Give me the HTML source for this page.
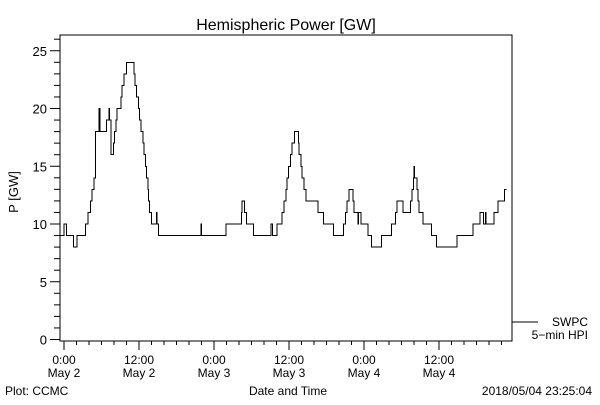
<!DOCTYPE html>
<html><head><meta charset="utf-8"><style>
body{margin:0;background:#fff;}
svg text{font-family:"Liberation Sans",sans-serif;fill:#000;}
</style></head><body>
<svg id="chart" width="600" height="400" viewBox="0 0 600 400" xmlns="http://www.w3.org/2000/svg">
<rect width="600" height="400" fill="#fff"/>
<text x="286" y="30" font-size="16" text-anchor="middle">Hemispheric Power [GW]</text>
<rect x="60" y="35" width="452" height="306" fill="none" stroke="#000" stroke-width="1"/>
<g id="yaxis"></g>
<g id="xaxis"></g>
<text transform="translate(18,192) rotate(-90)" font-size="13" text-anchor="middle">P [GW]</text>
<text x="288" y="395" font-size="12" text-anchor="middle">Date and Time</text>
<text x="5" y="395" font-size="12">Plot: CCMC</text>
<text x="592" y="395" font-size="12" text-anchor="end">2018/05/04 23:25:04</text>
<line x1="512" y1="322" x2="538" y2="322" stroke="#000"/>
<text x="588" y="326" font-size="12" text-anchor="end">SWPC</text>
<text x="588" y="339" font-size="12" text-anchor="end">5−min HPI</text>
<path id="series" fill="none" stroke="#000" stroke-width="1" shape-rendering="crispEdges"/>
</svg>
<script>
const hours=[-0.6,0,0.4,1.5,2.1,3.4,3.8,4.2,4.5,4.8,5.0,5.07,5.5,5.6,5.75,6.8,7.2,7.3,7.5,7.9,8.1,8.3,8.5,9.1,9.3,9.6,9.9,10.0,11.2,11.35,11.6,11.9,12.1,12.35,12.6,12.8,13.0,13.2,13.4,13.55,13.7,14.0,14.8,14.9,15.15,21.9,22.0,25.9,28.4,28.5,28.9,29.2,30.3,33.1,33.35,33.5,34.05,34.9,35.2,35.5,35.7,35.9,36.2,36.5,36.9,37.5,37.6,37.9,38.1,38.4,38.7,39.0,40.6,41.5,43.1,44.7,45.0,45.3,45.6,45.8,46.2,46.4,47.0,47.1,47.5,48.6,49.2,50.8,52.4,53.0,53.3,53.5,54.2,55.4,55.7,55.9,56.0,56.1,56.5,56.6,56.8,57.4,58.8,59.6,62.9,65.4,66.6,67.1,67.4,67.5,68.8,69.4,70.5,70.8];
const values=[9,10,9,8,9,10,11,12,13,14,15,18,18,20,18,19,20,19,16,17,18,19,20,21,22,23,23,24,23,22,21,20,19,18,17,16,15,14,13,12,11,10,11,10,9,10,9,10,11,12,11,10,9,10,9,9,10,11,12,13,14,15,16,17,18,17,16,15,14,13,12,12,11,10,9,10,11,12,13,13,12,11,10,11,10,9,8,9,10,11,12,12,11,12,13,14,15,14,13,12,11,10,9,8,9,10,11,10,11,10,11,12,13];
const endHour=71.5;
const yTicks=[0,5,10,15,20,25];
const xTickHours=[0,12,24,36,48,60];
const xTickLabels=["0:00","12:00","0:00","12:00","0:00","12:00"];
const xTickDates=["May 2","May 2","May 3","May 3","May 4","May 4"];
const NS="http://www.w3.org/2000/svg";
function xs(h){return 64+h*6.25;}
function ys(v){return 339.5-v*11.55;}
function mk(tag,attrs,parent){const e=document.createElementNS(NS,tag);for(const k in attrs)e.setAttribute(k,attrs[k]);parent.appendChild(e);return e;}
const ya=document.getElementById('yaxis');
for(let v=0;v<=26;v++){
  const major=v%5===0;
  const t=mk('line',{x1:major?50:54,x2:60,y1:ys(v),y2:ys(v),stroke:'#000'},ya);
  
  
}
yTicks.forEach(v=>{
  const t=mk('text',{x:47,y:ys(v)+5,'font-size':13,'text-anchor':'end'},ya);
  t.textContent=v;
  
  
});
const xa=document.getElementById('xaxis');
for(let h=0;h<=70;h+=2){
  const major=h%12===0;
  const t=mk('line',{x1:xs(h),x2:xs(h),y1:341,y2:major?350:345,stroke:'#000'},xa);
  
  
}
xTickHours.forEach((h,i)=>{
  const a=mk('text',{x:xs(h),y:364,'font-size':12,'text-anchor':'middle'},xa);
  a.textContent=xTickLabels[i];
  
  
  const b=mk('text',{x:xs(h),y:377,'font-size':12,'text-anchor':'middle'},xa);
  b.textContent=xTickDates[i];
  
  
});
let d='';
for(let i=0;i<hours.length;i++){
  const x=Math.max(60,xs(hours[i])), y=ys(values[i]);
  d+=(i===0?'M':'L')+x.toFixed(1)+','+y.toFixed(1);
  const nx=i+1<hours.length?xs(hours[i+1]):xs(endHour);
  d+='L'+nx.toFixed(1)+','+y.toFixed(1);
}
document.getElementById('series').setAttribute('d',d);
</script>
</body></html>
